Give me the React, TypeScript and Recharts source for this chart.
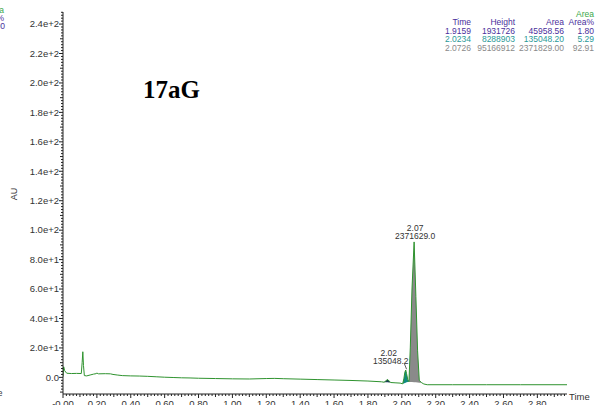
import React from 'react';
import { ComposedChart, Line, Area, XAxis, YAxis, ReferenceDot } from 'recharts';

const times = [
  0.0, 0.004, 0.01, 0.022, 0.05, 0.08, 0.108, 0.113, 0.117, 0.121, 0.126, 0.14, 0.16, 0.18, 0.195, 0.2, 0.21,
  0.25, 0.28, 0.295, 0.32, 0.35, 0.4, 0.45, 0.5, 0.55, 0.6, 0.65, 0.7, 0.75, 0.8, 0.9, 1.0, 1.1, 1.2, 1.25,
  1.3, 1.4, 1.5, 1.6, 1.7, 1.8, 1.88, 1.895, 1.905, 1.916, 1.925, 1.935, 1.96, 1.99, 2.005, 2.012, 2.018,
  2.023, 2.028, 2.035, 2.042, 2.05, 2.06, 2.0726, 2.083, 2.093, 2.103, 2.115, 2.13, 2.15, 2.3, 2.5, 2.7, 2.975,
];
const signal = [
  0.5, 7.2, 4.5, 2.8, 2.6, 2.7, 2.6, 10, 17.4, 8, 1.2, 1.0, 1.6, 2.2, 2.5, 2.9, 2.4,
  2.5, 2.4, 2.0, 1.6, 1.2, 1.0, 0.9, 0.7, 0.4, 0.1, -0.1, -0.3, -0.4, -0.6, -0.8, -1.0, -1.1, -0.8, -0.7,
  -0.9, -1.2, -1.5, -1.8, -2.1, -2.5, -3.0, -3.3, -2.4, -1.4, -2.5, -3.5, -3.7, -3.9, -4.4, -1.0, 3.5,
  5.0, 2.5, -1.5, -3.0, 20, 60, 92.0, 55, 18, -2.0, -3.5, -4.5, -5.0, -5.0, -5.0, -5.0, -5.0,
];

// [time, baseline, signal]
const peak1: [number, number, number][] = [
  [1.895, -3.3, -3.3], [1.905, -3.35, -2.4], [1.916, -3.4, -1.4], [1.925, -3.45, -2.5], [1.935, -3.5, -3.5],
];
const peak2: [number, number, number][] = [
  [2.005, -4.4, -4.4], [2.012, -4.1, -1.0], [2.018, -3.8, 3.5], [2.023, -3.6, 5.0], [2.028, -3.4, 2.5],
  [2.035, -3.2, -1.5], [2.042, -3.0, -3.0],
];
const peak3: [number, number, number][] = [
  [2.042, -3.0, -3.0], [2.05, -3.1, 20], [2.06, -3.2, 60], [2.0726, -3.3, 92.0], [2.083, -3.4, 55],
  [2.093, -3.5, 18], [2.103, -3.6, -2.0], [2.115, -3.7, -3.5],
];

const yMajorTicks = [0, 20, 40, 60, 80, 100, 120, 140, 160, 180, 200, 220, 240];
const yTickLabels = ['0.0', '2.0e+1', '4.0e+1', '6.0e+1', '8.0e+1', '1.0e+2', '1.2e+2', '1.4e+2', '1.6e+2', '1.8e+2', '2.0e+2', '2.2e+2', '2.4e+2'];
const xTickLabels = ['-0.00', '0.20', '0.40', '0.60', '0.80', '1.00', '1.20', '1.40', '1.60', '1.80', '2.00', '2.20', '2.40', '2.60', '2.80'];

const tableHeader = ['Time', 'Height', 'Area', 'Area%'];
const tableRows = [
  ['1.9159', '1931726', '45958.56', '1.80'],
  ['2.0234', '8288903', '135048.20', '5.29'],
  ['2.0726', '95166912', '2371829.00', '92.91'],
];
const rowColors = ['#4a2f9c', '#2a9a98', '#8a8a8a'];
const tableColX = [471, 515, 564, 594];

const rows = times.map((t, i) => {
  const r: any = { t, v: signal[i] };
  const p1 = peak1.find((p) => p[0] === t);
  const p2 = peak2.find((p) => p[0] === t);
  const p3 = peak3.find((p) => p[0] === t);
  if (p1) r.p1 = [p1[1], p1[2]];
  if (p2) r.p2 = [p2[1], p2[2]];
  if (p3) r.p3 = [p3[1], p3[2]];
  return r;
});

const xTicks: number[] = [];
for (let k = 0; k <= 148; k++) xTicks.push(Math.round(k * 2) / 100);
const yTicks: number[] = [];
for (let k = -5; k <= 124; k++) yTicks.push(k * 2);

const FONT = '"Liberation Sans", Arial, sans-serif';
const AX = '#222';

const XTick = (props: any) => {
  const { x, y, payload } = props;
  const k = Math.round(payload.value * 100);
  const major = k % 20 === 0;
  const mid = k % 10 === 0;
  const len = major ? 4 : mid ? 3 : 2;
  return (
    <g>
      <line x1={x} x2={x} y1={y} y2={y + len} stroke={AX} strokeWidth={1} />
      {major && (
        <text x={x} y={y + 13} textAnchor="middle" fontFamily={FONT} fontSize={9.5} fill="#333">
          {xTickLabels[k / 20]}
        </text>
      )}
    </g>
  );
};

const YTick = (props: any) => {
  const { x, y, payload } = props;
  const v = Math.round(payload.value);
  const major = v % 20 === 0;
  const mid = v % 10 === 0;
  const len = major ? 4 : mid ? 3 : 2;
  const idx = yMajorTicks.indexOf(v);
  return (
    <g>
      <line x1={x - len} x2={x} y1={y} y2={y} stroke={AX} strokeWidth={1} />
      {major && idx >= 0 && (
        <text x={x - 4} y={y} dy="0.35em" textAnchor="end" fontFamily={FONT} fontSize={9.5} fill="#333">
          {yTickLabels[idx]}
        </text>
      )}
    </g>
  );
};

const BigPeakLabel = (p: any) => (
  <g>
    <text x={p.cx + 1} y={p.cy - 14} dy="0.35em" textAnchor="middle" fontFamily={FONT} fontSize={8.5} fill="#333">2.07</text>
    <text x={p.cx + 1} y={p.cy - 5.5} dy="0.35em" textAnchor="middle" fontFamily={FONT} fontSize={8.5} fill="#333">2371629.0</text>
  </g>
);

const SmallPeakLabel = (p: any) => (
  <g>
    <text x={p.cx - 17} y={p.cy - 17} dy="0.35em" textAnchor="middle" fontFamily={FONT} fontSize={8.5} fill="#333">2.02</text>
    <text x={p.cx - 15} y={p.cy - 8.5} dy="0.35em" textAnchor="middle" fontFamily={FONT} fontSize={8.5} fill="#333">135048.2</text>
    <line x1={p.cx - 1.5} y1={p.cy - 6.5} x2={p.cx + 0.8} y2={p.cy - 0.8} stroke="#333" strokeWidth={0.8} />
  </g>
);

export default function App() {
  return (
    <div style={{ position: 'absolute', left: 0, top: 0, width: 604, height: 405, background: '#fff', overflow: 'hidden' }}>
      <ComposedChart width={604} height={405} data={rows} margin={{ top: 12, right: 37, bottom: 0, left: 0 }}>
        <XAxis
          dataKey="t"
          type="number"
          domain={[0, 2.975]}
          allowDataOverflow
          ticks={xTicks}
          interval={0}
          tick={<XTick />}
          tickLine={false}
          tickSize={0}
          tickMargin={0}
          height={11}
          axisLine={{ stroke: AX, strokeWidth: 1 }}
        />
        <YAxis
          type="number"
          domain={[-11.3, 248.2]}
          allowDataOverflow
          ticks={yTicks}
          interval={0}
          tick={<YTick />}
          tickLine={false}
          tickSize={0}
          tickMargin={0}
          width={63}
          axisLine={{ stroke: AX, strokeWidth: 1 }}
        />
        <Area dataKey="p1" type="linear" fill="#1b3f55" fillOpacity={1} stroke="none" isAnimationActive={false} />
        <Area dataKey="p2" type="linear" fill="#0f8a80" fillOpacity={1} stroke="none" isAnimationActive={false} />
        <Area dataKey="p3" type="linear" fill="#8a8a8a" fillOpacity={1} stroke="none" isAnimationActive={false} />
        <Line dataKey="v" type="linear" stroke="#2f932f" strokeWidth={1} dot={false} isAnimationActive={false} />
        <ReferenceDot x={2.0726} y={92.0} r={1} shape={BigPeakLabel} />
        <ReferenceDot x={2.0234} y={5.0} r={1} shape={SmallPeakLabel} />
      </ComposedChart>
      <svg width={604} height={405} style={{ position: 'absolute', left: 0, top: 0, pointerEvents: 'none' }}>
        <text x={143} y={98} fontFamily='"Liberation Serif", "Times New Roman", serif' fontWeight="bold" fontSize={25} fill="#000">17aG</text>
        <text x={569} y={397} dy="0.35em" fontFamily={FONT} fontSize={9.5} fill="#333">Time</text>
        <text x={13.5} y={194} dy="0.35em" textAnchor="middle" transform="rotate(-90 13.5 194)" fontFamily={FONT} fontSize={9} fill="#333">AU</text>
        <text x={4} y={10.5} dy="0.35em" textAnchor="end" fontFamily={FONT} fontSize={8.5} fill="#3aa84a">Area</text>
        <text x={4} y={18} dy="0.35em" textAnchor="end" fontFamily={FONT} fontSize={8.5} fill="#4a2f9c">Area%</text>
        <text x={5} y={26.5} dy="0.35em" textAnchor="end" fontFamily={FONT} fontSize={8.5} fill="#4a2f9c">100.00</text>
        <text x={2.5} y={393} dy="0.35em" textAnchor="end" fontFamily={FONT} fontSize={8.5} fill="#333">Time</text>
        <text x={tableColX[3]} y={13.7} dy="0.35em" textAnchor="end" fontFamily={FONT} fontSize={8.5} fill="#3aa84a">Area</text>
        {tableHeader.map((h, i) => (
          <text key={h} x={tableColX[i]} y={22.5} dy="0.35em" textAnchor="end" fontFamily={FONT} fontSize={8.5} fill="#4a2f9c">{h}</text>
        ))}
        {tableRows.map((r, ri) =>
          r.map((c, ci) => (
            <text key={ri + '-' + ci} x={tableColX[ci]} y={31 + ri * 8.5} dy="0.35em" textAnchor="end" fontFamily={FONT} fontSize={8.5} fill={rowColors[ri]}>{c}</text>
          ))
        )}
      </svg>
    </div>
  );
}
